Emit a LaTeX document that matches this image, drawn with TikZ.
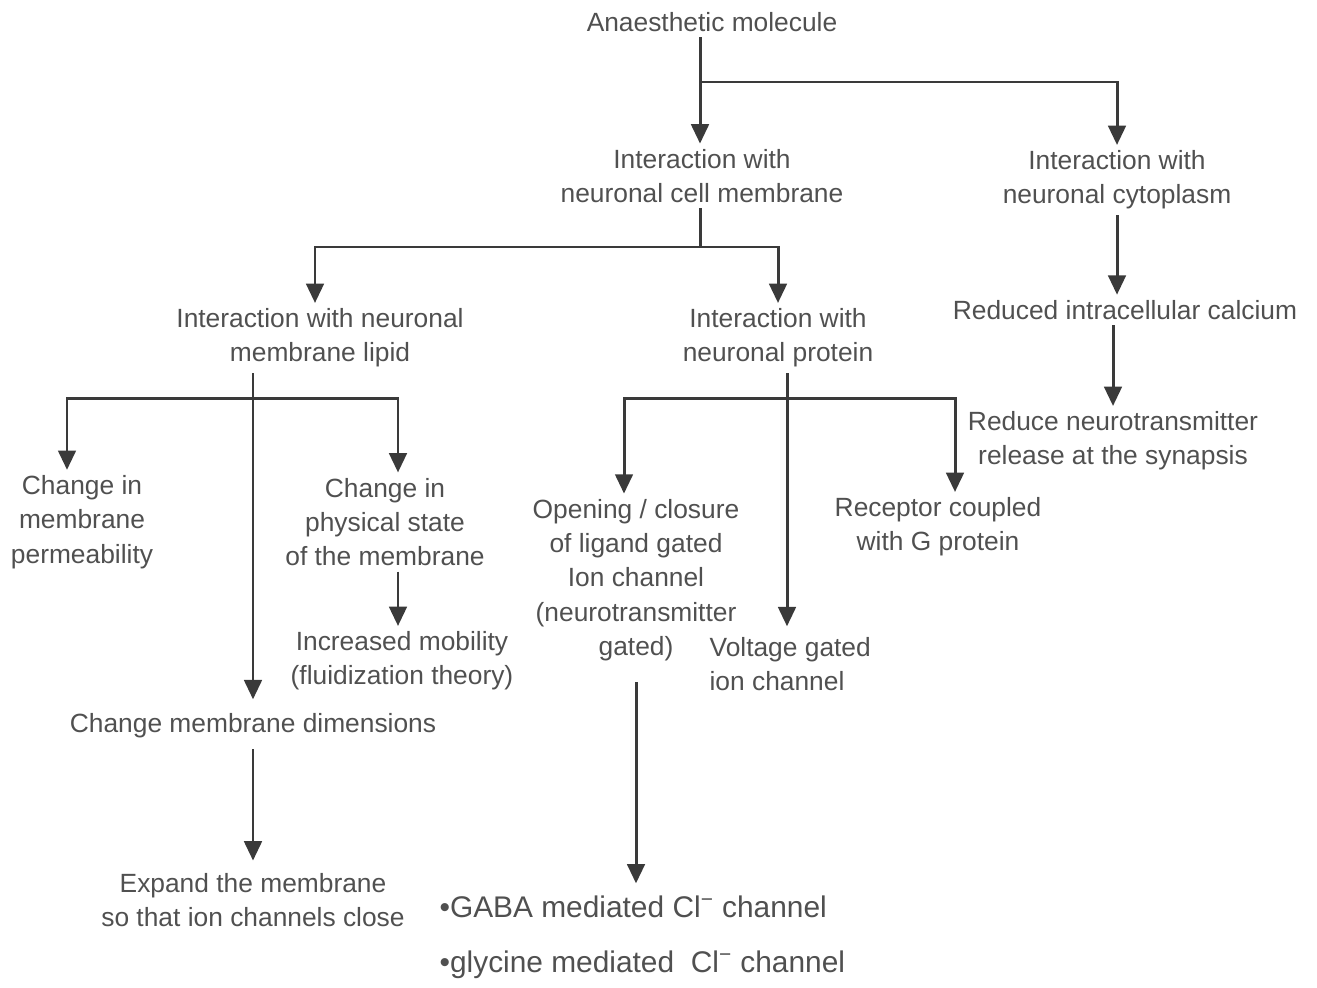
\documentclass[tikz,border=0pt]{standalone}
\usepackage{fontspec}
\setmainfont{Liberation Sans}
\usetikzlibrary{positioning, arrows.meta}
\definecolor{txtgray}{HTML}{505050}
\definecolor{lngray}{HTML}{3A3A3A}
\tikzset{
txt/.style={align=center, text=txtgray, inner sep=3pt, font=\fontsize{15}{19.5}\selectfont},
big/.style={text=txtgray, inner sep=3pt, anchor=west, font=\fontsize{17}{20}\selectfont},
ln/.style={draw=lngray, line width=1.7pt},
arr/.style={draw=lngray, line width=1.7pt, -{Triangle[length=11pt,width=10pt]}},
}

\begin{document}
\begin{tikzpicture}[x=0.02cm, y=-0.02cm]
    \useasboundingbox (0,0) rectangle (1317,987);

    %top
    \node[txt] (anaes) at (712,22) {Anaesthetic molecule};
    \node[txt] (memb) at (702,176) {Interaction with\\neuronal cell membrane};
    \node[txt] (cyto) at (1117,180) {Interaction with\\neuronal cytoplasm};

    %middle
    \node[txt] (lipid) at (320,338) {Interaction with neuronal\\membrane lipid};
    \node[txt] (prot) at (778,338) {Interaction with\\neuronal protein};
    \node[txt] (calc) at (1125,310) {Reduced intracellular calcium};
    \node[txt] (synap) at (1113,441) {Reduce neurotransmitter\\release at the synapsis};

    %lipid side
    \node[txt] (perm) at (82,522) {Change in\\membrane\\permeability};
    \node[txt] (phys) at (385,522) {Change in\\physical state\\of the membrane};
    \node[txt] (mobil) at (402,661) {Increased mobility\\(fluidization theory)};
    \node[txt] (dimen) at (253,726) {Change membrane dimensions};
    \node[txt] (expand) at (253,900) {Expand the membrane\\so that ion channels close};

    %protein side
    \node[txt] (ligand) at (636,580) {Opening / closure\\of ligand gated\\Ion channel\\(neurotransmitter\\gated)};
    \node[txt] (gprot) at (938,527) {Receptor coupled\\with G protein};
    \node[txt, align=left, anchor=west] (volt) at (704,664) {Voltage gated\\ion channel};
    \node[big] (gaba) at (434,907) {•GABA mediated Cl\textsuperscript{−} channel};
    \node[big] (glyc) at (434,965) {•glycine mediated\ \ Cl\textsuperscript{−} channel};

    %hubs
    \coordinate (h1) at (700,82);
    \coordinate (h2) at (700,247);
    \coordinate (h3) at (253,398);
    \coordinate (h4) at (787,398);

    \draw[ln] (anaes.south -| h1) -- (h1);
    \draw[arr] (h1) -- (h1 |- memb.north);
    \draw[arr] (h1) -| (cyto.north);

    \draw[ln] (memb.south -| h2) -- (h2);
    \draw[arr] (h2) -| ([xshift=-0.1cm]lipid.north);
    \draw[arr] (h2) -| (prot.north);

    \draw[arr] (cyto.south) -- (cyto.south |- calc.north);
    \draw[arr] (calc.south -| synap.north) -- (synap.north);

    \draw[arr, shorten >=5pt] (lipid.south -| h3) -- (dimen.north);
    \draw[arr] (h3) -| ([xshift=-0.3cm]perm.north);
    \draw[arr] (h3) -| ([xshift=0.26cm]phys.north);
    \draw[arr] ([xshift=0.26cm]phys.south) -- ([xshift=0.26cm]phys.south |- mobil.north);
    \draw[arr, shorten <=3pt, shorten >=4pt] (dimen.south) -- (expand.north);

    \draw[arr, shorten >=3pt] (prot.south -| h4) -- (h4 |- volt.north);
    \draw[arr] (h4) -| ([xshift=-0.24cm]ligand.north);
    \draw[arr] (h4) -| ([xshift=0.34cm]gprot.north);
    \draw[arr, shorten <=9pt, shorten >=4pt] (ligand.south) -- (ligand.south |- gaba.north);
\end{tikzpicture}
\end{document}
